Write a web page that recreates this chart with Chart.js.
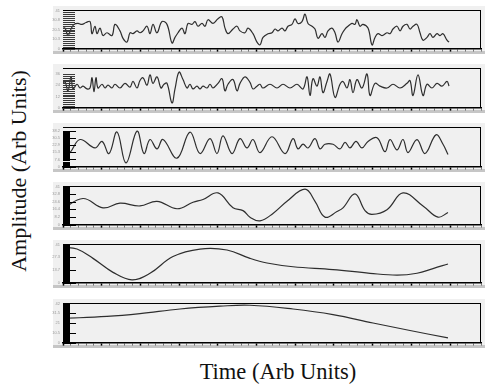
<!DOCTYPE html>
<html>
<head>
<meta charset="utf-8">
<script src="https://cdn.jsdelivr.net/npm/chart.js@4.4.1/dist/chart.umd.min.js"></script>
<style>
  body { margin: 0; width: 485px; height: 387px; position: relative; overflow: hidden; background: #fff;
         font-family: "Liberation Serif", "Times New Roman", serif; }
  .box { position: absolute; left: 53px; width: 432px; background: #f0f0f0; }
  .band { position: absolute; left: 53px; width: 432px; height: 3px; background: #c6c6c6; }
  canvas { position: absolute; left: 40px; }
  #ylab { position: absolute; left: 19px; top: 171px; transform: translate(-50%, -50%) rotate(-90deg);
          font-size: 22px; white-space: nowrap; color: #111; }
  #xlab { position: absolute; left: 278px; top: 372px; transform: translate(-50%, -50%);
          font-size: 22.5px; white-space: nowrap; color: #111; }
</style>
</head>
<body>
<div id="ylab">Amplitude (Arb Units)</div>
<div id="xlab">Time (Arb Units)</div>
<script>
// [time, amplitude] pairs, top to bottom
const imf1 = [[0,22],[2,22],[5,14],[8,21],[11,26],[15,27],[19,26],[23,28],[27,29],[29,16],[32,24],[34,16],[37,22],[40,14],[44,17],[49,14],[52,26],[57,19],[60,11],[64,7],[67,17],[70,16],[74,19],[77,17],[80,19],[84,24],[87,16],[90,26],[94,17],[99,29],[104,26],[109,6],[112,12],[115,17],[119,22],[122,16],[125,27],[129,26],[132,29],[135,24],[139,27],[142,24],[145,31],[150,27],[155,32],[159,34],[162,22],[165,16],[170,21],[174,24],[177,19],[182,17],[185,22],[190,16],[194,7],[197,4],[200,12],[205,16],[209,17],[212,21],[215,19],[219,22],[222,19],[225,24],[229,26],[232,32],[235,27],[239,29],[242,37],[245,27],[249,24],[252,21],[255,11],[259,16],[262,12],[265,19],[269,22],[272,17],[275,7],[279,16],[282,21],[285,24],[289,27],[292,26],[294,31],[297,24],[300,26],[305,22],[309,4],[312,12],[315,16],[319,14],[324,17],[327,16],[330,21],[334,24],[337,19],[340,24],[344,26],[347,21],[350,24],[354,26],[357,17],[360,9],[364,12],[367,16],[370,12],[374,16],[377,14],[380,16],[384,9],[386,7]];
const imf2 = [[0,26],[2,28],[5,18],[8,33],[10,20],[14,25],[17,21],[20,23],[24,20],[27,21],[29,32],[31,17],[33,32],[35,21],[39,25],[42,21],[45,24],[49,21],[52,25],[57,21],[62,26],[67,22],[70,28],[74,21],[77,29],[80,32],[84,24],[87,35],[90,26],[94,33],[98,21],[101,25],[104,26],[109,5],[112,20],[116,38],[120,30],[124,21],[127,25],[130,20],[134,23],[137,20],[140,23],[144,21],[147,25],[150,21],[155,26],[159,31],[162,18],[165,25],[170,30],[174,18],[177,26],[182,33],[187,27],[190,20],[194,23],[197,25],[200,21],[207,25],[214,21],[220,25],[227,21],[234,25],[240,20],[244,33],[247,13],[250,31],[254,23],[257,33],[260,16],[264,28],[267,36],[272,11],[277,25],[280,28],[284,21],[287,30],[290,16],[294,30],[299,21],[304,36],[307,13],[312,26],[317,23],[324,21],[330,25],[337,21],[344,26],[347,29],[350,13],[355,35],[360,13],[364,25],[369,21],[374,26],[379,23],[384,28],[386,23]];
const imf3 = [[0,10],[7,15],[17,29],[32,20],[39,27],[46,14],[54,37],[63,4],[74,38],[81,14],[87,29],[94,19],[100,29],[114,9],[127,37],[137,14],[147,30],[154,14],[160,33],[169,14],[177,30],[184,20],[190,29],[197,15],[209,32],[222,14],[230,30],[235,19],[240,24],[245,20],[252,30],[257,19],[262,24],[270,24],[277,19],[282,26],[287,20],[293,27],[299,20],[305,27],[314,31],[322,16],[327,29],[334,18],[340,29],[345,15],[354,29],[362,14],[373,34],[380,24],[385,13]];
const imf4 = [[0,17],[20,28],[40,18],[57,23],[77,20],[94,25],[114,17],[130,24],[140,27],[155,34],[170,18],[180,15],[187,8],[197,4],[210,12],[224,25],[242,38],[252,25],[262,8],[274,14],[280,18],[292,33],[302,15],[309,11],[324,16],[340,34],[360,20],[375,8],[385,13]];
const imf5 = [[0,38],[14,36],[30,26],[50,11],[69,3],[87,10],[110,28],[137,36],[164,35],[187,26],[204,21],[230,17],[270,14],[307,10],[334,8],[354,10],[370,15],[385,20]];
const residue = [[0,26],[44,28],[77,31],[117,36],[157,39],[187,40],[230,36],[270,30],[310,21],[347,13],[385,5]];

const series = [imf1, imf2, imf3, imf4, imf5, residue];
const yMax = [41, 42, 42, 41, 41, 42];
const yLabelCount = [5, 8, 12, 11, 7, 13];

// panel geometry
const panelTop = [8, 66, 125, 184, 242, 301];
const timeMax = 418, majorStep = 38.7;

// short ticks drawn into the plot from the left edge
const inwardTicks = {
  id: 'inwardTicks',
  afterDraw(chart, args, o) {
    const ys = chart.scales.y, left = chart.chartArea.left, c = chart.ctx;
    const t = ys.ticks;
    c.save();
    c.strokeStyle = o.color;
    c.lineWidth = 1;
    const line = (v, len) => {
      const py = Math.round(ys.getPixelForValue(v)) + 0.5;
      c.beginPath(); c.moveTo(left, py); c.lineTo(left + len, py); c.stroke();
    };
    for (let i = 0; i < t.length - 1; i++) {
      const a = t[i].value, b = t[i + 1].value;
      const gap = Math.abs(ys.getPixelForValue(b) - ys.getPixelForValue(a));
      const n = Math.max(1, Math.round(gap / o.px));
      for (let k = 1; k < n; k++) line(a + (b - a) * k / n, o.minor);
    }
    t.forEach(tk => line(tk.value, o.major));
    c.restore();
  }
};

const frame = {
  id: 'frame',
  afterDraw(chart) {
    const a = chart.chartArea, c = chart.ctx;
    c.save();
    c.strokeStyle = '#000';
    c.lineWidth = 1;
    c.beginPath();
    c.moveTo(a.left, Math.round(a.top) + 0.5); c.lineTo(a.right, Math.round(a.top) + 0.5);
    c.moveTo(Math.round(a.right) - 0.5, a.top); c.lineTo(Math.round(a.right) - 0.5, a.bottom);
    c.stroke();
    c.restore();
  }
};

series.forEach((pts, i) => {
  const top = panelTop[i], h = yMax[i];
  const box = document.createElement('div');
  box.className = 'box';
  box.style.top = (top - 2) + 'px';
  box.style.height = (h + 4) + 'px';
  document.body.appendChild(box);
  const band = document.createElement('div');
  band.className = 'band';
  band.style.top = (top + h + 2) + 'px';
  document.body.appendChild(band);

  const cv = document.createElement('canvas');
  cv.width = 445; cv.height = h + 8;
  cv.style.top = (top - 3) + 'px';
  document.body.appendChild(cv);

  const dense = i >= 2;
  new Chart(cv, {
    type: 'line',
    data: {
      datasets: [{
        data: pts.map(p => ({ x: p[0], y: p[1] })),
        borderColor: '#2e2e2e',
        borderWidth: 1.2,
        pointRadius: 0,
        tension: 0.4,
        fill: false
      }]
    },
    options: {
      responsive: false,
      animation: false,
      devicePixelRatio: 1,
      layout: { padding: { top: 3, right: 4, left: 0, bottom: 0 } },
      plugins: {
        legend: { display: false },
        tooltip: { enabled: false },
        inwardTicks: dense ? { color: '#000', major: 13, minor: 7, px: 1 } : { color: '#3a3a3a', major: 12, minor: 12, px: 2 }
      },
      scales: {
        x: {
          type: 'linear', min: 0, max: timeMax,
          ticks: { display: false, stepSize: majorStep / 5 },
          grid: {
            drawOnChartArea: false, tickLength: 3,
            tickColor: ctx => (Math.round(ctx.tick.value / (majorStep / 5)) % 5 === 0 ? '#000' : '#777'),
            tickWidth: ctx => (Math.round(ctx.tick.value / (majorStep / 5)) % 5 === 0 ? 1.5 : 1)
          },
          border: { display: true, color: '#000', width: 1.5 },
          afterFit: s => { s.height = 5; }
        },
        y: {
          min: 0, max: h,
          ticks: { count: yLabelCount[i], padding: 3, color: '#999', font: { size: 4 } },
          grid: { drawOnChartArea: false, drawTicks: false },
          border: { display: false },
          afterFit: s => { s.width = 23; }
        }
      }
    },
    plugins: [inwardTicks, frame]
  });
});
</script>
</body>
</html>
